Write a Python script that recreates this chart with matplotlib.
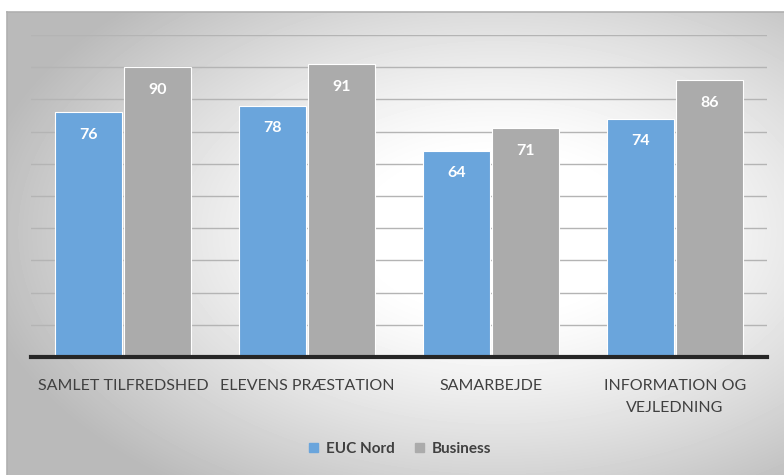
import numpy as np
import matplotlib
matplotlib.use("Agg")
import matplotlib.pyplot as plt
from matplotlib.patches import Rectangle

# chart data
categories = ["SAMLET TILFREDSHED", "ELEVENS PRÆSTATION", "SAMARBEJDE", "INFORMATION OG\nVEJLEDNING"]
euc_nord = [76, 78, 64, 74]
business = [90, 91, 71, 86]
series_names = ["EUC Nord", "Business"]

blue = "#6aa5dc"
gray = "#ababab"
text_col = "#404040"

W, H = 784, 475
fig = plt.figure(figsize=(W / 100, H / 100), dpi=100)
fig.patch.set_facecolor("white")

# radial gradient background of the chart area
bg = fig.add_axes([7 / W, 0, 1 - 7 / W, 1 - 12 / H])
yy, xx = np.mgrid[0:463, 0:777]
cx, cy = 490, 220
d = np.sqrt(((xx - cx) / 500) ** 2 + ((yy - cy) / 300) ** 2)
shade = 1 - 0.27 * np.clip((d - 0.25) / 0.8, 0, 1) ** 1.3
bg.imshow(shade, cmap="gray", vmin=0, vmax=1, aspect="auto", interpolation="bilinear")
bg.set_xticks([])
bg.set_yticks([])
for s in ["right", "bottom"]:
    bg.spines[s].set_visible(False)
for s in ["top", "left"]:
    bg.spines[s].set_color("#b0b0b0")
    bg.spines[s].set_linewidth(1.2)

# plot area
ax = fig.add_axes([31 / W, (H - 357) / H, (767 - 31) / W, (357 - 35) / H])
ax.patch.set_alpha(0)
x = np.arange(len(categories))
w = 0.365
b1 = ax.bar(x - w / 2 - 0.005, euc_nord, w, color=blue, edgecolor="white", linewidth=0.8, zorder=3)
b2 = ax.bar(x + w / 2 + 0.005, business, w, color=gray, edgecolor="white", linewidth=0.8, zorder=3)

for bars in (b1, b2):
    for r in bars:
        ax.text(r.get_x() + r.get_width() / 2, r.get_height() - 7, f"{r.get_height():.0f}",
                ha="center", va="center", color="white", fontsize=11.5, fontweight="bold",
                family="Lato", zorder=4)

ax.set_xlim(-0.5, len(categories) - 0.5)
ax.set_ylim(0, 100)
ax.set_yticks(np.arange(10, 101, 10))
ax.yaxis.grid(True, color="#b4b4b4", linewidth=1.0, zorder=0)
ax.tick_params(axis="y", left=False, labelleft=False)
ax.tick_params(axis="x", bottom=False, pad=12)
ax.set_xticks(x)
ax.set_xticklabels(categories, fontsize=11.5, color=text_col, family="Lato", linespacing=1.75)
for s in ["top", "right", "left"]:
    ax.spines[s].set_visible(False)
ax.spines["bottom"].set_color("#262626")
ax.spines["bottom"].set_linewidth(3)
ax.spines["bottom"].set_zorder(5)

# legend
handles = [Rectangle((0, 0), 1, 1, color=blue), Rectangle((0, 0), 1, 1, color=gray)]
fig.legend(handles, series_names, loc="center", bbox_to_anchor=(400 / W, 1 - 449 / H),
           ncol=2, frameon=False, handlelength=0.6, handleheight=0.6,
           handletextpad=0.5, columnspacing=1.3, prop={"family": "Lato", "size": 11, "weight": "bold"},
           labelcolor=text_col)

fig.savefig("out.png", dpi=100)
